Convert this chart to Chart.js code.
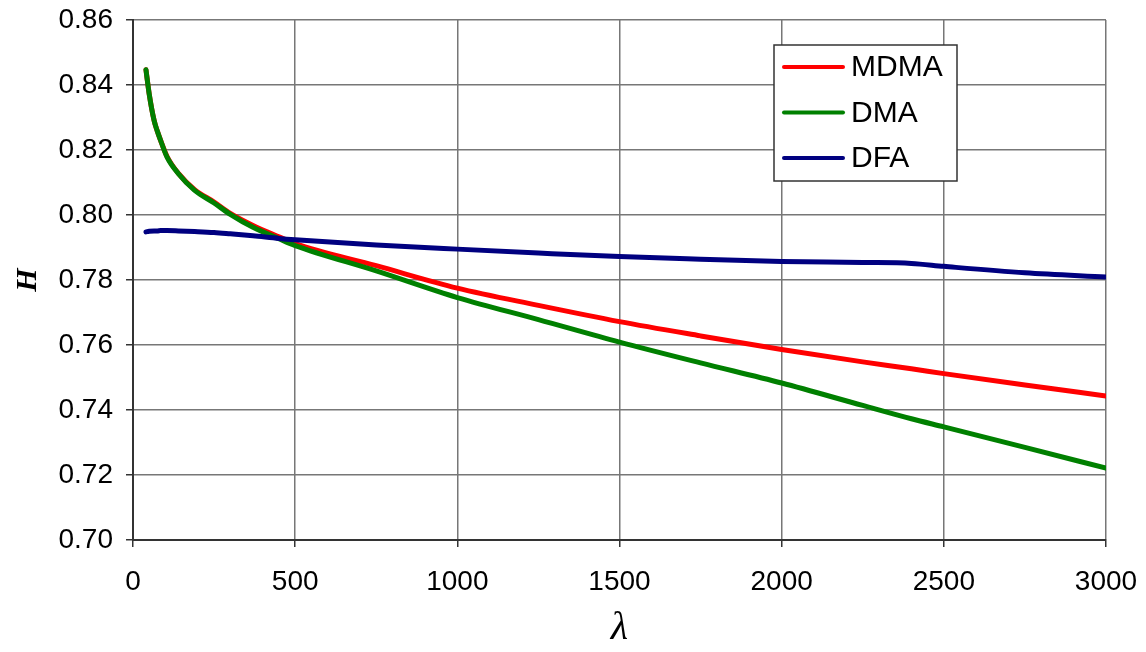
<!DOCTYPE html>
<html>
<head>
<meta charset="utf-8">
<script src="https://cdn.jsdelivr.net/npm/chart.js@4"></script>
<style>
  html, body { margin: 0; padding: 0; background: #fff; }
  #wrap { width: 1146px; height: 652px; }
</style>
</head>
<body>
<div id="wrap"><canvas id="c" width="1146" height="652"></canvas></div>
<script>
// valores
const LAMBDA = [40, 50, 65, 75, 85, 105, 140, 190, 250, 300, 370, 450, 500, 750, 1000, 1250, 1500, 1750, 2000, 2250, 2400, 2500, 2750, 3000];
const H_MDMA = [0.8447, 0.8372, 0.8291, 0.8258, 0.8230, 0.8180, 0.8128, 0.8078, 0.8040, 0.8005, 0.7968, 0.7933, 0.7912, 0.7844, 0.7775, 0.7722, 0.7672, 0.7628, 0.7586, 0.7548, 0.7527, 0.7512, 0.7477, 0.7443];
const H_DMA  = [0.8447, 0.8372, 0.8291, 0.8258, 0.8230, 0.8178, 0.8127, 0.8076, 0.8037, 0.8002, 0.7962, 0.7927, 0.7906, 0.7828, 0.7746, 0.7678, 0.7609, 0.7545, 0.7483, 0.7414, 0.7373, 0.7348, 0.7285, 0.7221];
const H_DFA  = [0.7948, 0.7950, 0.7951, 0.7951, 0.7952, 0.7952, 0.7951, 0.7949, 0.7946, 0.7942, 0.7936, 0.7928, 0.7924, 0.7908, 0.7895, 0.7883, 0.7872, 0.7864, 0.7857, 0.7854, 0.7851, 0.7842, 0.7822, 0.7809];
const SERIES = ['MDMA', 'DMA', 'DFA'];
const X_TICKS = [0, 500, 1000, 1500, 2000, 2500, 3000];
const Y_TICKS = [0.70, 0.72, 0.74, 0.76, 0.78, 0.80, 0.82, 0.84, 0.86];

const RED = '#ff0000', GREEN = '#008000', NAVY = '#000080';
const GRID = '#777';

const pts = ys => LAMBDA.map((x, i) => ({ x, y: ys[i] }));
const lineDs = (label, ys, color, order) => ({
  label, data: pts(ys), borderColor: color, backgroundColor: color,
  borderWidth: 5, pointRadius: 0, cubicInterpolationMode: 'monotone',
  borderCapStyle: 'round', order
});

// leyenda dentro del área del gráfico (recuadro arriba a la derecha)
const boxLegend = {
  id: 'boxLegend',
  afterDraw(chart) {
    const { ctx, chartArea } = chart;
    const x0 = chartArea.right - 332, y0 = chartArea.top + 25;
    const w = 183, h = 136;
    ctx.save();
    ctx.fillStyle = '#fff';
    ctx.fillRect(x0, y0, w, h);
    ctx.strokeStyle = '#333';
    ctx.lineWidth = 1.5;
    ctx.strokeRect(x0, y0, w, h);
    ctx.font = "30px 'Liberation Sans', Arial, sans-serif";
    ctx.textBaseline = 'middle';
    chart.data.datasets.forEach((ds, i) => {
      const y = y0 + 22 + i * 45.5;
      ctx.strokeStyle = ds.borderColor;
      ctx.lineWidth = 4;
      ctx.lineCap = 'round';
      ctx.beginPath();
      ctx.moveTo(x0 + 10, y);
      ctx.lineTo(x0 + 69, y);
      ctx.stroke();
      ctx.fillStyle = '#000';
      ctx.fillText(ds.label, x0 + 77, y + 1);
    });
    ctx.restore();
  }
};

new Chart(document.getElementById('c'), {
  type: 'line',
  data: {
    datasets: [
      lineDs(SERIES[0], H_MDMA, RED, 2),
      lineDs(SERIES[1], H_DMA, GREEN, 1),
      lineDs(SERIES[2], H_DFA, NAVY, 0)
    ]
  },
  options: {
    responsive: false,
    animation: false,
    layout: { padding: { top: 20, right: 40, left: 0, bottom: 0 } },
    plugins: { legend: { display: false }, tooltip: { enabled: false } },
    scales: {
      x: {
        type: 'linear', min: 0, max: 3000,
        afterBuildTicks: s => { s.ticks = X_TICKS.map(v => ({ value: v })); },
        afterFit: s => { s.height = 112; s.paddingLeft = 0; s.paddingRight = 0; },
        grid: { color: GRID, lineWidth: 1.5, tickLength: 7, tickColor: '#333' },
        border: { color: '#333', width: 2 },
        ticks: { color: '#000', padding: 18, maxRotation: 0, callback: v => String(v),
                 font: { family: "'Liberation Sans', Arial", size: 28 } },
        title: { display: true, text: 'λ', color: '#000', padding: { top: 0, bottom: 0 },
                 font: { family: "'Liberation Serif', 'Times New Roman', serif", size: 40, style: 'italic' } }
      },
      y: {
        min: 0.70, max: 0.86,
        afterBuildTicks: s => { s.ticks = Y_TICKS.map(v => ({ value: v })); },
        afterFit: s => { s.width = 133; s.paddingTop = 0; s.paddingBottom = 0; },
        grid: { color: GRID, lineWidth: 1.5, tickLength: 7, tickColor: '#333' },
        border: { color: '#333', width: 2 },
        ticks: { color: '#000', padding: 13, callback: v => v.toFixed(2),
                 font: { family: "'Liberation Sans', Arial", size: 28 } },
        title: { display: true, text: 'H', color: '#000', padding: { top: 10, bottom: 0 },
                 font: { family: "'Liberation Serif', 'Times New Roman', serif", size: 30, style: 'italic', weight: 'bold' } }
      }
    }
  },
  plugins: [boxLegend]
});
</script>
</body>
</html>
